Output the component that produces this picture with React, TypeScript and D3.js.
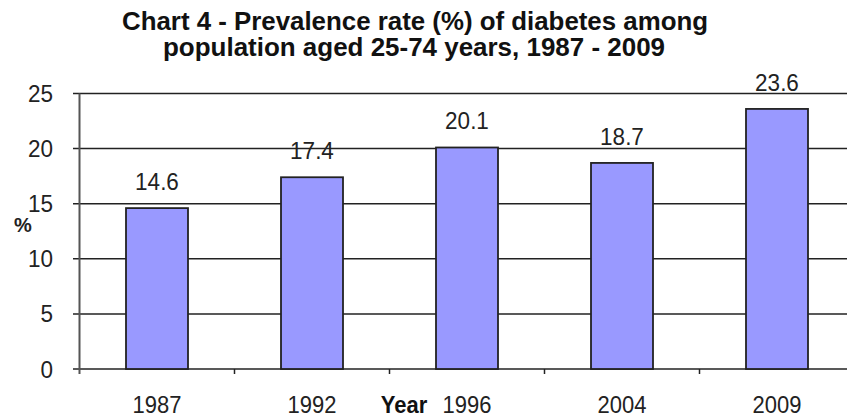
import React from "react";
import * as d3 from "d3";

const years: string[] = ["1987", "1992", "1996", "2004", "2009"];
const prevalence: number[] = [14.6, 17.4, 20.1, 18.7, 23.6];
const yTicks: number[] = [0, 5, 10, 15, 20, 25];
const titleLines: string[] = [
  "Chart 4 - Prevalence rate (%) of diabetes among",
  "population aged 25-74 years, 1987 - 2009",
];

const W = 847;
const H = 417;
const FONT = "'Liberation Sans', Arial, sans-serif";

function SText(props: {
  x: number;
  y: number;
  sy: number;
  size: number;
  bold?: boolean;
  anchor?: string;
  fill?: string;
  textLength?: number;
  children: React.ReactNode;
}) {
  const { x, y, sy, size, bold, anchor, fill, textLength, children } = props;
  return (
    <g transform={`translate(${x},${y}) scale(1,${sy})`}>
      <text
        x={0}
        y={0}
        fontFamily={FONT}
        fontSize={size}
        fontWeight={bold ? "bold" : "normal"}
        textAnchor={anchor || "middle"}
        fill={fill || "#222"}
        textLength={textLength}
        lengthAdjust={textLength ? "spacingAndGlyphs" : undefined}
      >
        {children}
      </text>
    </g>
  );
}

export default function App() {
  const x = d3
    .scaleBand<string>()
    .domain(years)
    .range([79.5, 854.5])
    .paddingInner(0.6)
    .paddingOuter(0.3);
  const y = d3.scaleLinear().domain([0, 25]).range([369, 93.5]);
  const step = x.step();
  const x0 = 79.5;

  return (
    <div style={{ position: "fixed", left: 0, top: 0 }}>
      <svg width={W} height={H} style={{ display: "block", background: "#fff" }}>
        <rect x={0} y={0} width={W} height={H} fill="#fff" />
        {/* title */}
        <SText x={415} y={30} sy={1.15} size={22} bold fill="#111" textLength={586}>
          {titleLines[0]}
        </SText>
        <SText x={414} y={56} sy={1.15} size={22} bold fill="#111" textLength={502}>
          {titleLines[1]}
        </SText>
        {/* gridlines */}
        {yTicks.map((t) => (
          <line
            key={"g" + t}
            x1={73}
            x2={W}
            y1={y(t)}
            y2={y(t)}
            stroke="#222"
            strokeWidth={1.5}
          />
        ))}
        {/* y axis line */}
        <line x1={x0} x2={x0} y1={y(25)} y2={y(0) + 5} stroke="#555" strokeWidth={2} />
        {/* x ticks */}
        {years.map((_, i) => (
          <line
            key={"xt" + i}
            x1={x0 + step * (i + 1)}
            x2={x0 + step * (i + 1)}
            y1={y(0)}
            y2={y(0) + 5}
            stroke="#222"
            strokeWidth={1.5}
          />
        ))}
        {/* y tick labels */}
        {yTicks.map((t) => (
          <SText key={"yl" + t} x={53} y={y(t) + 8.5} sy={1.08} size={22.5} anchor="end">
            {t}
          </SText>
        ))}
        <SText x={23} y={232} sy={1.05} size={20} bold>
          %
        </SText>
        {/* bars */}
        {years.map((yr, i) => (
          <rect
            key={"b" + yr}
            x={x(yr)}
            y={y(prevalence[i])}
            width={x.bandwidth()}
            height={y(0) - y(prevalence[i])}
            fill="#9999FF"
            stroke="#222"
            strokeWidth={1.8}
          />
        ))}
        {/* value labels */}
        {years.map((yr, i) => (
          <SText
            key={"v" + yr}
            x={(x(yr) as number) + x.bandwidth() / 2}
            y={y(prevalence[i]) - 18}
            sy={1.08}
            size={22.5}
          >
            {prevalence[i]}
          </SText>
        ))}
        {/* x labels */}
        {years.map((yr) => (
          <SText key={"xl" + yr} x={(x(yr) as number) + x.bandwidth() / 2} y={413} sy={1.12} size={22}>
            {yr}
          </SText>
        ))}
        <SText x={404} y={413} sy={1.12} size={22} bold fill="#111">
          Year
        </SText>
      </svg>
    </div>
  );
}
